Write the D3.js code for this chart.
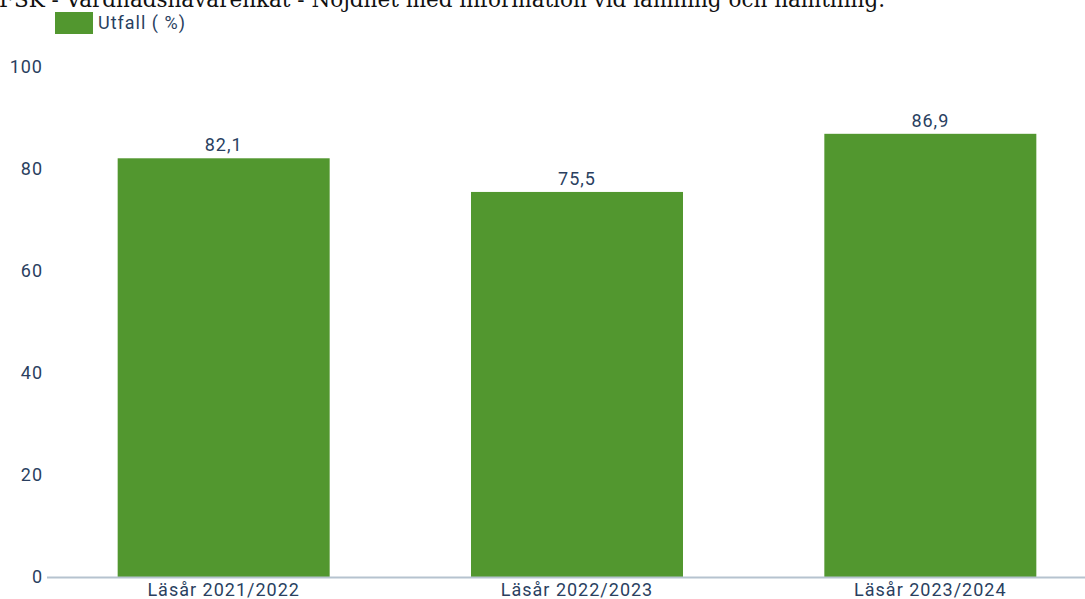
<!DOCTYPE html>
<html><head><meta charset="utf-8">
<script src="https://cdn.jsdelivr.net/npm/d3@7"></script>
<style>html,body{margin:0;padding:0;background:#fff;overflow:hidden}</style>
</head><body>
<svg id="chart" width="1085" height="599"></svg>
<script>
const title = "FSK - Vårdnadshavarenkät - Nöjdhet med information vid lämning och hämtning.";
const seriesName = "Utfall ( %)";
const categories = ["Läsår 2021/2022", "Läsår 2022/2023", "Läsår 2023/2024"];
const values = [82.1, 75.5, 86.9];
const valueLabels = ["82,1", "75,5", "86,9"];
const yTicks = [0, 20, 40, 60, 80, 100];

const svg = d3.select("#chart");
const textColor = "#2a3f5f";
const barColor = "#52972f";
const font = "Roboto, 'Noto Sans', sans-serif";
const fs = 18, ls = 1;

const x = d3.scaleBand().domain(categories).range([47, 1107]).paddingInner(0.4).paddingOuter(0.2);
const y = d3.scaleLinear().domain([0, 100]).range([577, 67]);

// title (cut off at the top edge, as in the reference)
svg.append("text").attr("x", -1).attr("y", 7)
  .attr("font-family", "'DejaVu Serif', serif").attr("font-size", 21.5).attr("fill", "#111")
  .text(title);

// legend
svg.append("rect").attr("x", 55).attr("y", 12).attr("width", 38).attr("height", 22).attr("fill", barColor);
svg.append("text").attr("x", 98).attr("y", 29).attr("font-family", font).attr("font-size", fs)
  .attr("letter-spacing", ls).attr("fill", textColor).text(seriesName);

// y axis labels
svg.append("g").selectAll("text").data(yTicks).join("text")
  .attr("x", 43).attr("y", d => y(d)).attr("dy", "0.36em").attr("text-anchor", "end")
  .attr("font-family", font).attr("font-size", fs).attr("letter-spacing", ls)
  .attr("fill", textColor).text(d => d);

// bars
svg.append("g").selectAll("rect").data(values).join("rect")
  .attr("x", (d, i) => x(categories[i])).attr("width", x.bandwidth())
  .attr("y", d => y(d)).attr("height", d => y(0) - y(d)).attr("fill", barColor);

// value labels
svg.append("g").selectAll("text").data(values).join("text")
  .attr("x", (d, i) => x(categories[i]) + x.bandwidth() / 2).attr("y", d => y(d) - 7)
  .attr("text-anchor", "middle").attr("font-family", font).attr("font-size", fs)
  .attr("letter-spacing", ls).attr("fill", textColor).text((d, i) => valueLabels[i]);

// x axis
svg.append("line").attr("x1", 47).attr("x2", 1085).attr("y1", y(0) + 0.5).attr("y2", y(0) + 0.5)
  .attr("stroke", "#b6c3cf").attr("stroke-width", 2);
svg.append("g").selectAll("text").data(categories).join("text")
  .attr("x", d => x(d) + x.bandwidth() / 2).attr("y", 596)
  .attr("text-anchor", "middle").attr("font-family", font).attr("font-size", fs)
  .attr("letter-spacing", ls).attr("fill", textColor).text(d => d);
</script>
</body></html>
